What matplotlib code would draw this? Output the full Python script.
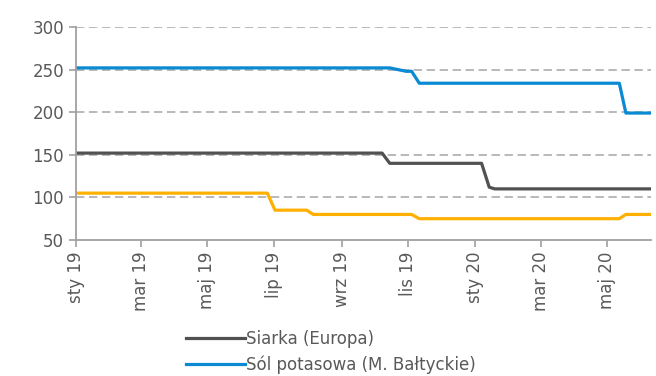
import matplotlib.pyplot as plt
import numpy as np

# punkty zmian cen (USD/t)
siarka_daty = ["2019-01-01", "2019-10-08", "2019-10-15", "2020-01-07", "2020-01-14",
               "2020-01-19", "2020-06-09"]
siarka_ceny = [152, 152, 140, 140, 112, 110, 110]

sol_daty = ["2019-01-01", "2019-10-15", "2019-10-30", "2019-11-04", "2019-11-11",
            "2020-05-12", "2020-05-18", "2020-06-09"]
sol_ceny = [252, 252, 248, 248, 234, 234, 199, 199]

mocznik_daty = ["2019-01-01", "2019-06-25", "2019-07-02", "2019-07-31", "2019-08-06",
                "2019-11-04", "2019-11-11", "2020-05-12", "2020-05-18", "2020-06-09"]
mocznik_ceny = [105, 105, 85, 85, 80, 80, 75, 75, 80, 80]

etykiety = ["sty 19", "mar 19", "maj 19", "lip 19", "wrz 19", "lis 19",
            "sty 20", "mar 20", "maj 20"]
ticki = ["2019-01-01", "2019-03-01", "2019-05-01", "2019-07-01", "2019-09-01",
         "2019-11-01", "2020-01-01", "2020-03-01", "2020-05-01"]

def d(lista):
    return [np.datetime64(x) for x in lista]

szary = "#595959"
os_kolor = "#a0a0a0"

fig = plt.figure(figsize=(6.56, 3.76), dpi=100)
ax = fig.add_axes([0.1159, 0.3617, 0.8765, 0.5665])

l1, = ax.plot(d(siarka_daty), siarka_ceny, color="#515151", lw=2.3, label="Siarka (Europa)")
l2, = ax.plot(d(sol_daty), sol_ceny, color="#0a8ad2", lw=2.3, label="Sól potasowa (M. Bałtyckie)")
ax.plot(d(mocznik_daty), mocznik_ceny, color="#ffb000", lw=2.3)

ax.set_ylim(50, 300)
ax.set_yticks([50, 100, 150, 200, 250, 300])
ax.set_xlim(np.datetime64("2019-01-01"), np.datetime64("2020-06-10"))
ax.set_xticks(d(ticki))
ax.set_xticklabels(etykiety, rotation=90)

for y in [100, 150, 200, 250, 300]:
    ax.axhline(y, color="#a6a6a6", lw=1.1, ls=(0, (5.5, 3)), zorder=0)

for s in ["top", "right"]:
    ax.spines[s].set_visible(False)
for s in ["left", "bottom"]:
    ax.spines[s].set_color(os_kolor)
    ax.spines[s].set_linewidth(1.3)

ax.tick_params(axis="both", colors=os_kolor, length=5, width=1.2, labelsize=12,
               labelcolor=szary)

leg = fig.legend(handles=[l1, l2], loc="upper left", bbox_to_anchor=(0.274, 0.14),
                 frameon=False, fontsize=12, handlelength=3.5, handletextpad=0.1,
                 labelspacing=0.42, borderaxespad=0)
for t in leg.get_texts():
    t.set_color(szary)

fig.savefig("out.png", dpi=100)
